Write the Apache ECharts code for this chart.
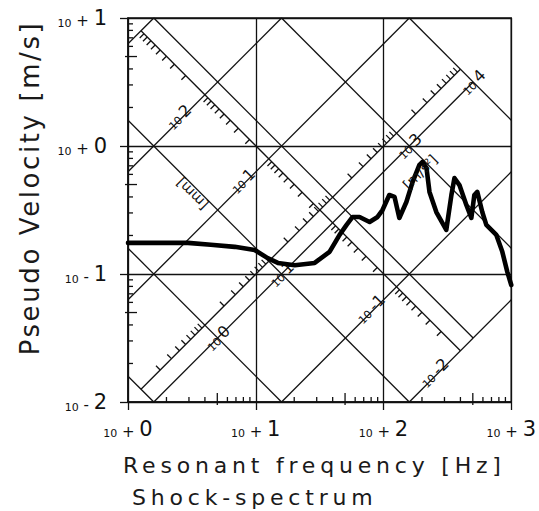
<!DOCTYPE html>
<html>
<head>
<meta charset="utf-8">
<script src="https://cdn.jsdelivr.net/npm/echarts@6/dist/echarts.min.js"></script>
<style>
html,body{margin:0;padding:0;background:#fff;}
#c{width:539px;height:511px;}
</style>
</head>
<body>
<div id="c"></div>
<script>
// ---------------- data ----------------
const freqHz = [1, 1.81, 2.94, 4.45, 6.85, 9.8, 12.4, 14.9, 20.2, 28.9, 37.8, 45.3, 51.4, 57.3, 64.9, 77.8, 89.8, 98.2, 111, 122, 133, 151, 169, 191, 202, 217, 229, 259, 310, 340, 359, 393, 445, 487, 514, 542, 593, 638, 764, 851, 931, 1000];
const pseudoVelocity = [0.175, 0.175, 0.175, 0.169, 0.163, 0.154, 0.133, 0.122, 0.117, 0.122, 0.149, 0.202, 0.242, 0.279, 0.279, 0.255, 0.279, 0.316, 0.414, 0.400, 0.274, 0.365, 0.524, 0.711, 0.750, 0.673, 0.438, 0.305, 0.221, 0.414, 0.562, 0.495, 0.346, 0.274, 0.414, 0.438, 0.305, 0.242, 0.202, 0.149, 0.104, 0.082];
const xTicks = [1, 10, 100, 1000];            // Hz
const yTicks = [0.01, 0.1, 1, 10];            // m/s
const displacementLinesMM = [1000, 100, 10, 1, 0.1, 0.01];   // constant displacement lines [mm]
const accelerationLines = [0.1, 1, 10, 100, 1000, 10000];    // constant acceleration lines [m/s^2]
const displacementLabelsMM = [100, 10, 0.1, 0.01];
const accelerationLabels = [1, 10, 1000, 10000];
const rulerSubdivisions = [2, 3, 4, 5, 6, 7, 8, 9];
const dispRulerAccel = 100;   // acceleration line carrying the displacement ruler
const accRulerDispMM = 1;     // displacement line carrying the acceleration ruler
const xTitle = 'Resonant frequency [Hz]';
const subTitle = 'Shock-spectrum';
const yTitle = 'Pseudo Velocity [m/s]';
const dispUnit = '[mm]';
const accUnit = '[m/s²]';

// ---------------- helpers ----------------
const TWO_PI = 2 * Math.PI;
const fMin = xTicks[0], fMax = xTicks[xTicks.length - 1];
const vMin = yTicks[0], vMax = yTicks[yTicks.length - 1];
const BAND = Math.pow(10, 0.2);   // ruler band width factor

function dispSeg(Dm, fLo, fHi) {   // V = 2 pi f D
  const f1 = Math.max(fMin, vMin / (TWO_PI * Dm), fLo || 0);
  const f2 = Math.min(fMax, vMax / (TWO_PI * Dm), fHi || Infinity);
  if (f2 <= f1) return null;
  return [f1, TWO_PI * f1 * Dm, f2, TWO_PI * f2 * Dm];
}
function accSeg(A, fLo, fHi) {     // V = A / (2 pi f)
  const f1 = Math.max(fMin, A / (TWO_PI * vMax), fLo || 0);
  const f2 = Math.min(fMax, A / (TWO_PI * vMin), fHi || Infinity);
  if (f2 <= f1) return null;
  return [f1, A / (TWO_PI * f1), f2, A / (TWO_PI * f2)];
}
function cross(A, Dm) {
  return [Math.sqrt(A / Dm) / TWO_PI, Math.sqrt(A * Dm)];
}

const Dmax = Math.max(...displacementLinesMM) / 1000, Dmin = Math.min(...displacementLinesMM) / 1000;
const Amax = Math.max(...accelerationLines), Amin = Math.min(...accelerationLines);

const segs = [];
displacementLinesMM.forEach(d => {
  const Dm = d / 1000;
  let s;
  if (d === accRulerDispMM) s = dispSeg(Dm, cross(Amin, Dm)[0], cross(Amax, Dm)[0]);
  else s = dispSeg(Dm);
  if (s) segs.push(s.concat([1.3]));
});
accelerationLines.forEach(a => {
  let s;
  if (a === dispRulerAccel) s = accSeg(a, cross(a, Dmax)[0], cross(a, Dmin)[0]);
  else s = accSeg(a);
  if (s) segs.push(s.concat([1.3]));
});
// ruler tick lines
const At = dispRulerAccel / BAND;
const s1 = accSeg(At, cross(At, Dmax)[0], cross(At, Dmin)[0]);
if (s1) segs.push(s1.concat([1.3]));
const Dt = accRulerDispMM / 1000 * BAND;
const s2 = dispSeg(Dt, cross(Amin, Dt)[0], cross(Amax, Dt)[0]);
if (s2) segs.push(s2.concat([1.3]));

// ruler ticks [f, V, dirx, diry]
const rulerTicks = [];
for (let n = Math.round(Math.log10(Dmin * 1000)); n < Math.round(Math.log10(Dmax * 1000)); n++) {
  rulerSubdivisions.forEach(k => {
    const c = cross(At, k * Math.pow(10, n) / 1000);
    rulerTicks.push([c[0], c[1], -1, 1]);
  });
}
for (let n = Math.round(Math.log10(Amin)); n < Math.round(Math.log10(Amax)); n++) {
  rulerSubdivisions.forEach(k => {
    const c = cross(k * Math.pow(10, n), Dt);
    rulerTicks.push([c[0], c[1], -1, -1]);
  });
}

// axis minor ticks [value, axis(0=x,1=y), k]
const axisTicks = [];
for (let i = 0; i < xTicks.length - 1; i++) rulerSubdivisions.forEach(k => axisTicks.push([xTicks[i] * k, 0, k]));
for (let i = 0; i < yTicks.length - 1; i++) rulerSubdivisions.forEach(k => axisTicks.push([yTicks[i] * k, 1, k]));

// ruler labels [f, V, exponent, kind]
const rulerLabels = [];
displacementLabelsMM.forEach(d => {
  const c = cross(At, d / 1000);
  rulerLabels.push([c[0], c[1], Math.round(Math.log10(d)), 0]);
});
accelerationLabels.forEach(a => {
  const c = cross(a, accRulerDispMM / 1000);
  rulerLabels.push([c[0], c[1], Math.round(Math.log10(a)), 1]);
});

const INK = '#111';
const labelRich = {
  s: {fontSize: 11, fontFamily: 'DejaVu Sans', color: INK, verticalAlign: 'bottom'},
  b: {fontSize: 16, fontFamily: 'DejaVu Sans', color: INK, verticalAlign: 'bottom'}
};

function expLabel(v) {
  const e = Math.round(Math.log10(v));
  return '{s|10}{p| ' + (e < 0 ? '-' : '+') + ' }{b|' + Math.abs(e) + '}';
}
const axisRich = {
  s: {fontSize: 11, fontFamily: 'DejaVu Sans', color: INK, verticalAlign: 'bottom'},
  p: {fontSize: 15, fontFamily: 'DejaVu Sans', color: INK, verticalAlign: 'bottom'},
  b: {fontSize: 21, fontFamily: 'DejaVu Sans', color: INK, verticalAlign: 'bottom'}
};

const chart = echarts.init(document.getElementById('c'), null, {renderer: 'svg'});
const option = {
  animation: false,
  backgroundColor: '#fff',
  grid: {left: 128, right: 27, top: 18, bottom: 109, show: true, borderColor: INK, borderWidth: 1.5},
  xAxis: {
    type: 'log', logBase: 10, min: fMin, max: fMax,
    axisLine: {lineStyle: {color: INK, width: 1.5}},
    axisTick: {show: true, length: 8, lineStyle: {color: INK, width: 1.3}},
    minorTick: {show: false},
    splitLine: {show: true, lineStyle: {color: INK, width: 1.3}},
    axisLabel: {margin: 16, formatter: expLabel, rich: axisRich}
  },
  yAxis: {
    type: 'log', logBase: 10, min: vMin, max: vMax,
    axisLine: {lineStyle: {color: INK, width: 1.5}},
    axisTick: {show: true, length: 8, lineStyle: {color: INK, width: 1.3}},
    minorTick: {show: false},
    splitLine: {show: true, lineStyle: {color: INK, width: 1.3}},
    axisLabel: {margin: 21, formatter: expLabel, rich: axisRich}
  },
  series: [
    {
      type: 'custom', name: 'grid-diagonals', silent: true, z: 3,
      encode: {x: [0, 2], y: [1, 3]},
      data: segs,
      renderItem: function (params, api) {
        const p1 = api.coord([api.value(0), api.value(1)]);
        const p2 = api.coord([api.value(2), api.value(3)]);
        return {type: 'line', shape: {x1: p1[0], y1: p1[1], x2: p2[0], y2: p2[1]},
          style: {stroke: INK, lineWidth: api.value(4)}};
      }
    },
    {
      type: 'custom', name: 'ruler-ticks', silent: true, z: 3,
      encode: {x: 0, y: 1},
      data: rulerTicks,
      renderItem: function (params, api) {
        const p = api.coord([api.value(0), api.value(1)]);
        const L = 6 / Math.SQRT2;
        return {type: 'line', shape: {x1: p[0], y1: p[1], x2: p[0] + api.value(2) * L, y2: p[1] + api.value(3) * L},
          style: {stroke: INK, lineWidth: 1.3}};
      }
    },
    {
      type: 'custom', name: 'axis-minor-ticks', silent: true, z: 3,
      encode: {x: 0},
      data: axisTicks,
      renderItem: function (params, api) {
        const v = api.value(0), ax = api.value(1), k = api.value(2);
        const inL = k === 5 ? 9 : 5, outL = k === 5 ? 3 : 0;
        if (ax === 0) {
          const p = api.coord([v, vMin]);
          return {type: 'line', shape: {x1: p[0], y1: p[1] + outL, x2: p[0], y2: p[1] - inL}, style: {stroke: INK, lineWidth: 1.3}};
        }
        const p = api.coord([fMin, v]);
        return {type: 'line', shape: {x1: p[0] - outL, y1: p[1], x2: p[0] + inL, y2: p[1]}, style: {stroke: INK, lineWidth: 1.3}};
      }
    },
    {
      type: 'custom', name: 'ruler-labels', silent: true, z: 4,
      encode: {x: 0, y: 1},
      data: rulerLabels,
      renderItem: function (params, api) {
        const p = api.coord([api.value(0), api.value(1)]);
        const kind = api.value(3);
        const dx = kind === 0 ? -26 : 0, dy = kind === 0 ? 22 : 0;
        return {type: 'text', x: p[0] + dx, y: p[1] + dy, rotation: Math.PI / 4,
          style: {text: '{s|10} {b|' + api.value(2) + '}', rich: labelRich, align: 'center', verticalAlign: 'middle', fill: INK}};
      }
    },
    {
      type: 'line', name: 'shock spectrum', z: 6,
      data: freqHz.map((f, i) => [f, pseudoVelocity[i]]),
      symbol: 'none', smooth: false,
      lineStyle: {color: '#000', width: 4.6, join: 'round', cap: 'round'}
    }
  ],
  graphic: [
    {type: 'text', x: 30, y: 188, rotation: Math.PI / 2, silent: true,
      style: {text: yTitle, font: '26px "DejaVu Sans"', fill: '#1a1a1a', align: 'center', verticalAlign: 'middle', textAlign: 'center', textVerticalAlign: 'middle'}},
    {type: 'text', x: 123, y: 465, silent: true,
      style: {text: xTitle, font: '22px "DejaVu Sans"', fill: '#1a1a1a', align: 'left', verticalAlign: 'middle', textAlign: 'left', textVerticalAlign: 'middle'}},
    {type: 'text', x: 132, y: 497, silent: true,
      style: {text: subTitle, font: '22px "DejaVu Sans"', fill: '#1a1a1a', align: 'left', verticalAlign: 'middle', textAlign: 'left', textVerticalAlign: 'middle'}},
    {type: 'text', x: 192, y: 194, rotation: 3 * Math.PI / 4, silent: true, z: 10,
      style: {text: dispUnit, font: '14px "DejaVu Sans"', fill: INK, align: 'center', verticalAlign: 'middle', textAlign: 'center', textVerticalAlign: 'middle'}},
    {type: 'text', x: 420, y: 172, rotation: Math.PI / 4, silent: true, z: 10,
      style: {text: accUnit, font: '14px "DejaVu Sans"', fill: INK, align: 'center', verticalAlign: 'middle', textAlign: 'center', textVerticalAlign: 'middle'}}
  ]
};
chart.setOption(option);

function applySpacing() {
  document.querySelectorAll('#c svg text').forEach(t => {
    const s = t.textContent;
    if (s === xTitle || s === subTitle) t.setAttribute('letter-spacing', '4.8');
    else if (s === yTitle) t.setAttribute('letter-spacing', '2.6');
  });
}
applySpacing();
chart.on('finished', applySpacing);
setTimeout(applySpacing, 0);
</script>
</body>
</html>
